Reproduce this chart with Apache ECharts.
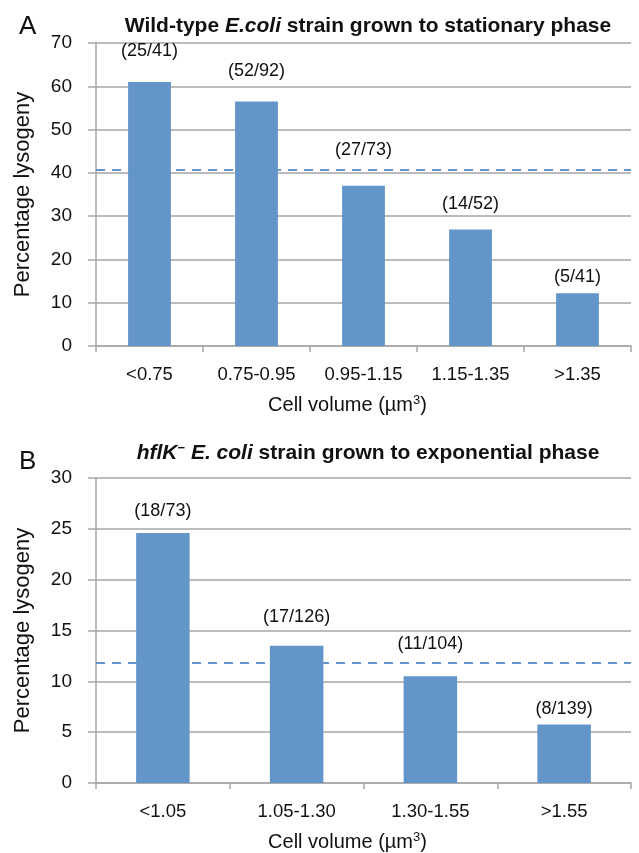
<!DOCTYPE html>
<html>
<head>
<meta charset="utf-8">
<script src="https://cdn.jsdelivr.net/npm/echarts@6/dist/echarts.min.js"></script>
<style>
  html, body { margin: 0; padding: 0; background: #fff; }
  #main { width: 639px; height: 853px; }
</style>
</head>
<body>
<div id="main"></div>
<script>
// panel A: wild-type, stationary phase
var catsA = ['<0.75', '0.75-0.95', '0.95-1.15', '1.15-1.35', '>1.35'];
var valsA = [61.0, 56.5, 37.0, 26.9, 12.2];
var countsA = ['(25/41)', '(52/92)', '(27/73)', '(14/52)', '(5/41)'];
var meanA = 40.7;
var ticksA = { min: 0, max: 70, interval: 10 };

// panel B: hflK- strain, exponential phase
var catsB = ['<1.05', '1.05-1.30', '1.30-1.55', '>1.55'];
var valsB = [24.6, 13.5, 10.5, 5.75];
var countsB = ['(18/73)', '(17/126)', '(11/104)', '(8/139)'];
var meanB = 11.85;
var ticksB = { min: 0, max: 30, interval: 5 };

var FONT = '"Liberation Sans", Arial, sans-serif';
var BLUE = '#6395c9';
var GRID = '#a6a6a6';

// label offsets above bars (the original text boxes were placed by hand)
var gapA = [22, 21, 27, 17, 7];
var gapB = [13, 20, 23, 7];

function barData(vals, labels, gaps) {
    return vals.map(function (v, i) {
        return { value: v, label: { distance: gaps[i], formatter: labels[i] } };
    });
}

function xAxis(idx, cats) {
    return {
        type: 'category', gridIndex: idx, data: cats,
        name: '{n|Cell volume (\u00b5m}{s|3}{n|)}', nameLocation: 'middle', nameGap: 48,
        nameTextStyle: {
            padding: [0, 32, 0, 0],
            rich: {
                n: { fontFamily: FONT, fontSize: 20, color: '#111' },
                s: { fontFamily: FONT, fontSize: 13, color: '#111', verticalAlign: 'top', padding: [0, 0, 9, 0] }
            }
        },
        axisLine: { lineStyle: { color: GRID, width: 1.5 } },
        axisTick: { show: true, length: 6, lineStyle: { color: GRID, width: 1.5 } },
        axisLabel: { fontFamily: FONT, fontSize: 18.5, color: '#111', margin: 19 }
    };
}

function yAxis(idx, t) {
    return {
        type: 'value', gridIndex: idx, min: t.min, max: t.max, interval: t.interval,
        name: 'Percentage lysogeny', nameLocation: 'middle', nameGap: 62,
        nameTextStyle: { fontFamily: FONT, fontSize: 22, color: '#111' },
        axisLine: { show: true, lineStyle: { color: GRID, width: 1.5 } },
        axisTick: { show: true, length: 8, lineStyle: { color: GRID, width: 1.5 } },
        axisLabel: { fontFamily: FONT, fontSize: 19, color: '#111', margin: 24 },
        splitLine: { lineStyle: { color: GRID, width: 1.5 } }
    };
}

function barSeries(idx, data, mean) {
    return {
        type: 'bar', xAxisIndex: idx, yAxisIndex: idx,
        data: data, barCategoryGap: '60%',
        itemStyle: { color: BLUE },
        label: { show: true, position: 'top', fontFamily: FONT, fontSize: 18, color: '#111' },
        markLine: {
            silent: true, symbol: 'none', label: { show: false },
            lineStyle: { color: BLUE, type: [9, 7], width: 2 },
            data: [{ yAxis: mean }]
        }
    };
}

var titleRich = {
    b: { fontFamily: FONT, fontSize: 21, fontWeight: 'bold', color: '#111' },
    bi: { fontFamily: FONT, fontSize: 21, fontWeight: 'bold', fontStyle: 'italic', color: '#111' },
    sup: { fontFamily: FONT, fontSize: 13, fontWeight: 'bold', color: '#111', verticalAlign: 'top', padding: [0, 0, 10, 0] }
};

var chart = echarts.init(document.getElementById('main'), null, { renderer: 'canvas' });
chart.setOption({
    animation: false,
    backgroundColor: '#fff',
    title: [
        { text: 'A', left: 14, top: 9, textStyle: { fontFamily: FONT, fontSize: 26, fontWeight: 'normal', color: '#111' } },
        { text: 'B', left: 14, top: 444, textStyle: { fontFamily: FONT, fontSize: 26, fontWeight: 'normal', color: '#111' } },
        {
            text: '{b|Wild-type }{bi|E.coli}{b| strain grown to stationary phase}',
            left: 363, textAlign: 'center', top: 11,
            textStyle: { rich: titleRich }
        },
        {
            text: '{bi|hflK}{sup|\u2212}{bi| E. coli}{b| strain grown to exponential phase}',
            left: 363, textAlign: 'center', top: 437,
            textStyle: { rich: titleRich }
        }
    ],
    grid: [
        { left: 96, right: 8, top: 43, height: 303 },
        { left: 96, right: 8, top: 478, height: 306 }
    ],
    xAxis: [xAxis(0, catsA), xAxis(1, catsB)],
    yAxis: [yAxis(0, ticksA), yAxis(1, ticksB)],
    series: [
        barSeries(0, barData(valsA, countsA, gapA), meanA),
        barSeries(1, barData(valsB, countsB, gapB), meanB)
    ]
});
</script>
</body>
</html>
